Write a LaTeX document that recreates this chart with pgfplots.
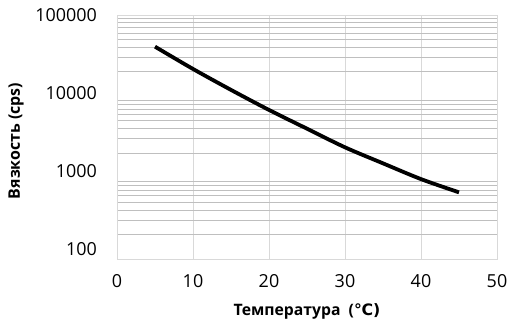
\documentclass[border=0pt]{standalone}
\usepackage{fontspec}
\setmainfont{Open Sans}
\newfontfamily\dejavu{DejaVu Sans}
\usepackage{pgfplots}
\pgfplotsset{compat=1.18}
\definecolor{vgrid}{HTML}{D9D9D9}
\definecolor{hgrid}{HTML}{BFBFBF}
\begin{document}
\begin{tikzpicture}
\begin{axis}[
  scale only axis, width=380bp, height=244bp,
  ymode=log, log basis y=10,
  xmin=0, xmax=50, ymin=100, ymax=100000,
  xtick={0,10,20,30,40,50}, xticklabels={0,10,20,30,40,50},
  ytick={100,1000,10000,100000}, yticklabels={100,1000,10000,100000},
  minor ytick={200,300,400,500,600,700,800,900,2000,3000,4000,5000,6000,7000,8000,9000,20000,30000,40000,50000,60000,70000,80000,90000},
  ymajorgrids=false, yminorgrids=true, xmajorgrids=true,
  major grid style={draw=vgrid, line width=0.8bp},
  minor grid style={draw=hgrid, line width=0.8bp},
  major tick length=0pt, minor tick length=0pt,
  axis line style={draw=vgrid, line width=0.8bp},
  tick label style={font=\fontsize{18}{20}\selectfont, text=black},
  xticklabel style={anchor=center, inner sep=0pt, yshift=-22bp},
  yticklabel style={anchor=east, inner sep=0pt, xshift=-20bp, yshift={(3-\ticknum)*3.3bp}},
  xlabel={Температура \ (\dejavu ℃)},
  xlabel style={at={(axis description cs:0.5,-0.213)}, anchor=center, font=\bfseries\fontsize{15.8}{18}\selectfont},
  ylabel={Вязкость (cps)},
  ylabel style={at={(axis description cs:-0.2658,0.484)}, anchor=center, font=\bfseries\fontsize{16}{18}\selectfont},
]
\addplot[black, line width=3.8bp, smooth] coordinates {
  (5,40800) (10,21700) (15,12000) (20,6800) (25,4000) (30,2360) (35,1500) (40,960) (45,660)
};
\end{axis}
\pgfresetboundingbox
\path[use as bounding box] ([xshift=-117bp,yshift=-69bp]current axis.south west) rectangle ([xshift=16bp,yshift=15bp]current axis.north east);
\end{tikzpicture}
\end{document}
